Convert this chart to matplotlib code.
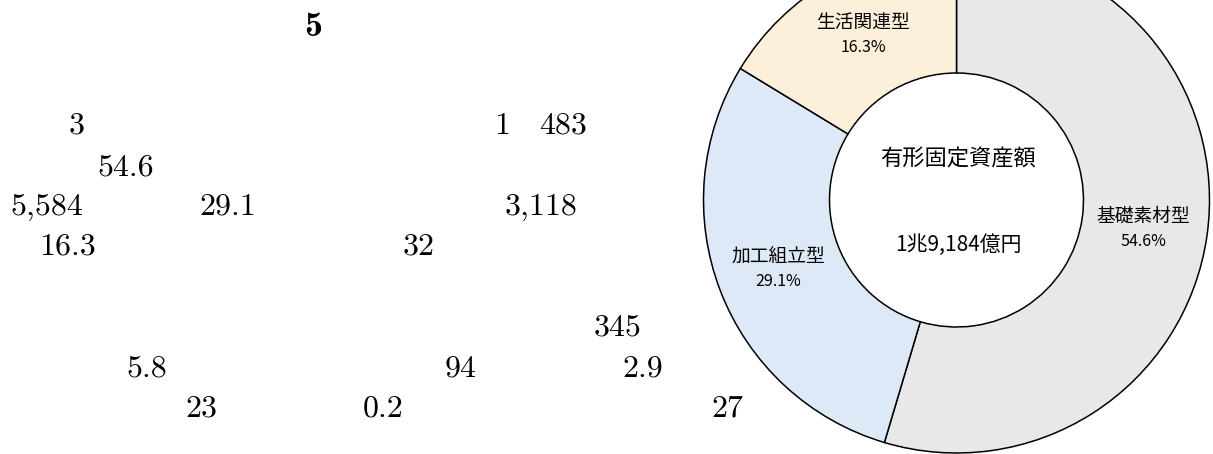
import numpy as np
import matplotlib
matplotlib.use('Agg')
import matplotlib.pyplot as plt

plt.rcParams['font.family'] = ['Noto Sans CJK JP', 'DejaVu Sans']

# donut data (clockwise from 12 o'clock)
categories = ['基礎素材型', '加工組立型', '生活関連型']
shares = [54.6, 29.1, 16.3]
colors = ['#e8e8e8', '#dde9f7', '#fdf0da']
center_title = '有形固定資産額'
center_total = '1兆9,184億円'

# loose numbers of the body text (only the digits survived in the source)
body_numbers = ['3', '1', '483', '54.6', '5,584', '29.1', '3,118', '16.3', '32',
                '345', '5.8', '94', '2.9', '23', '0.2', '27']
body_x = [77, 502, 563, 126, 47, 228, 541, 68, 419, 618, 147, 461, 643, 201, 383, 727]
body_y = [126, 126, 126, 168, 207, 207, 207, 247, 247, 328, 369, 369, 369, 409, 409, 409]

W, H = 1213, 454
fig = plt.figure(figsize=(W / 100, H / 100), dpi=100)
ax = fig.add_axes([0, 0, 1, 1])

cx, cy = 956.5, H - 200
r_out, r_in = 253, 127

wedges, _ = ax.pie(shares, radius=r_out, center=(cx, cy), startangle=90,
                   counterclock=False, colors=colors,
                   wedgeprops=dict(width=r_out - r_in, edgecolor='black', linewidth=1.1))
ax.set_xlim(0, W)
ax.set_ylim(0, H)
ax.set_aspect('equal')
ax.axis('off')

# wedge labels
label_pos = [(1143, 216), (778, 256), (863, 22)]
for name, val, (lx, ly) in zip(categories, shares, label_pos):
    ax.text(lx, H - ly, name, ha='center', va='center', fontsize=13.5)
    ax.text(lx, H - ly - 25, f'{val}%', ha='center', va='center', fontsize=11.5)

ax.text(958, H - 159, center_title, ha='center', va='center', fontsize=16)
ax.text(958, H - 245, center_total, ha='center', va='center', fontsize=15)

# heading number and body numbers
ax.text(313, H - 27, '5', ha='center', va='center', fontsize=26, family='cmb10')
for s, x, y in zip(body_numbers, body_x, body_y):
    ax.text(x, H - y, s, ha='center', va='center', fontsize=23, family='cmr10')

plt.savefig('out.png', dpi=100)
plt.close()
